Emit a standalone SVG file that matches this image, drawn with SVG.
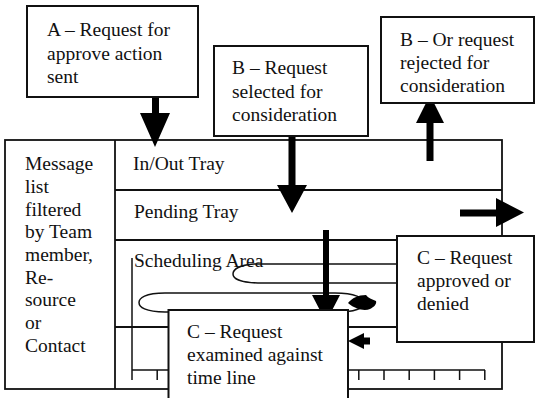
<svg xmlns="http://www.w3.org/2000/svg" width="535" height="398" viewBox="0 0 535 398">
<style>
text{font-family:"Liberation Serif","Times New Roman",serif;font-size:19.5px;fill:#111}
.box{fill:#fff;stroke:#111;stroke-width:2}
.ln{fill:none;stroke:#111;stroke-width:1.8}
.thin{fill:none;stroke:#111;stroke-width:1.5}
.arr{fill:#000;stroke:none}
</style>
<rect width="535" height="398" fill="#fff"/>
<g id="frame">
<rect x="5" y="140" width="497" height="249" class="ln"/>
<line x1="115" y1="140" x2="115" y2="389" class="ln"/>
<line x1="115" y1="190" x2="502" y2="190" class="ln"/>
<line x1="115" y1="240" x2="502" y2="240" class="ln"/>
<line x1="115" y1="327" x2="502" y2="327" class="ln"/>
</g>
<g id="message-list">
<text x="25" y="170">Message</text>
<text x="25" y="193">list</text>
<text x="25" y="215.5">filtered</text>
<text x="25" y="238">by Team</text>
<text x="25" y="260.5">member,</text>
<text x="25" y="283.5">Re-</text>
<text x="25" y="306">source</text>
<text x="25" y="329">or</text>
<text x="25" y="352">Contact</text>
</g>
<g id="inout-tray"><text x="133" y="170">In/Out Tray</text></g>
<g id="pending-tray"><text x="134" y="218">Pending Tray</text></g>
<g id="scheduling-area">
<text x="134" y="267">Scheduling Area</text>
<line x1="132" y1="258" x2="132" y2="380" class="thin"/>
<path class="thin" d="M397,264 H254 C240,265 233,269 233,274 C233,279 242,283 262,283 H397"/>
<path class="thin" d="M165,293 H335 C355,293 364,298 364,303 C364,308 355,312 335,312 H165 C145,312 139,307 139,302.5 C139,298 145,293 165,293 Z"/>
</g>
<g id="timeline">
<path class="thin" d="M132,370 H485 M157.2,370 V380 M182.4,370 V380 M207.6,370 V380 M232.8,370 V380 M258,370 V380 M283.2,370 V380 M308.4,370 V380 M333.6,370 V380 M358.8,370 V380 M384,370 V380 M409.2,370 V380 M434.4,370 V380 M459.6,370 V380 M484.8,370 V380"/>
</g>
<g id="connectors">
<path class="arr" d="M152,97 H159 V113 H170 L155,147 L140,113 H152 Z"/>
<path class="arr" d="M288.5,128 H295.5 V185 H307 L292,213 L277,185 H288.5 Z"/>
<path class="arr" d="M426.5,161 H433.5 V123 H444 L430,95 L416,123 H426.5 Z"/>
<path class="arr" d="M460,209.5 H496 V198 L524,212.5 L496,227 V216.5 H460 Z"/>
<path class="arr" d="M323,230 H329 V295 H340 L326,322 L312,295 H323 Z"/>
<path class="arr" d="M348,303 C352,298 358,295 366,295 C368,298 372,299 376,301 C377,304 374,307 370,309 C365,311 356,310 348,303 Z"/>
<path class="arr" d="M348,341 L364,333 V337.5 H370 V344.5 H364 V349 Z"/>
</g>
<g id="box-a">
<rect x="27" y="6" width="171" height="91" class="box"/>
<text x="47" y="36">A – Request for</text>
<text x="47" y="59.5">approve action</text>
<text x="47" y="83">sent</text>
</g>
<g id="box-b-selected">
<rect x="214" y="46" width="154" height="90" class="box"/>
<text x="232" y="74">B – Request</text>
<text x="232" y="97.5">selected for</text>
<text x="232" y="121">consideration</text>
</g>
<g id="box-b-rejected">
<rect x="381" y="17" width="153" height="86" class="box"/>
<text x="400" y="46">B – Or request</text>
<text x="400" y="69">rejected for</text>
<text x="400" y="92">consideration</text>
</g>
<g id="box-c-approved">
<rect x="397" y="236" width="137" height="106" class="box"/>
<text x="417" y="264">C – Request</text>
<text x="417" y="287">approved or</text>
<text x="417" y="309.5">denied</text>
</g>
<g id="box-c-examined">
<rect x="168.5" y="310" width="179.5" height="100" class="box"/>
<text x="187" y="338">C – Request</text>
<text x="187" y="361">examined against</text>
<text x="187" y="384">time line</text>
</g>
</svg>
